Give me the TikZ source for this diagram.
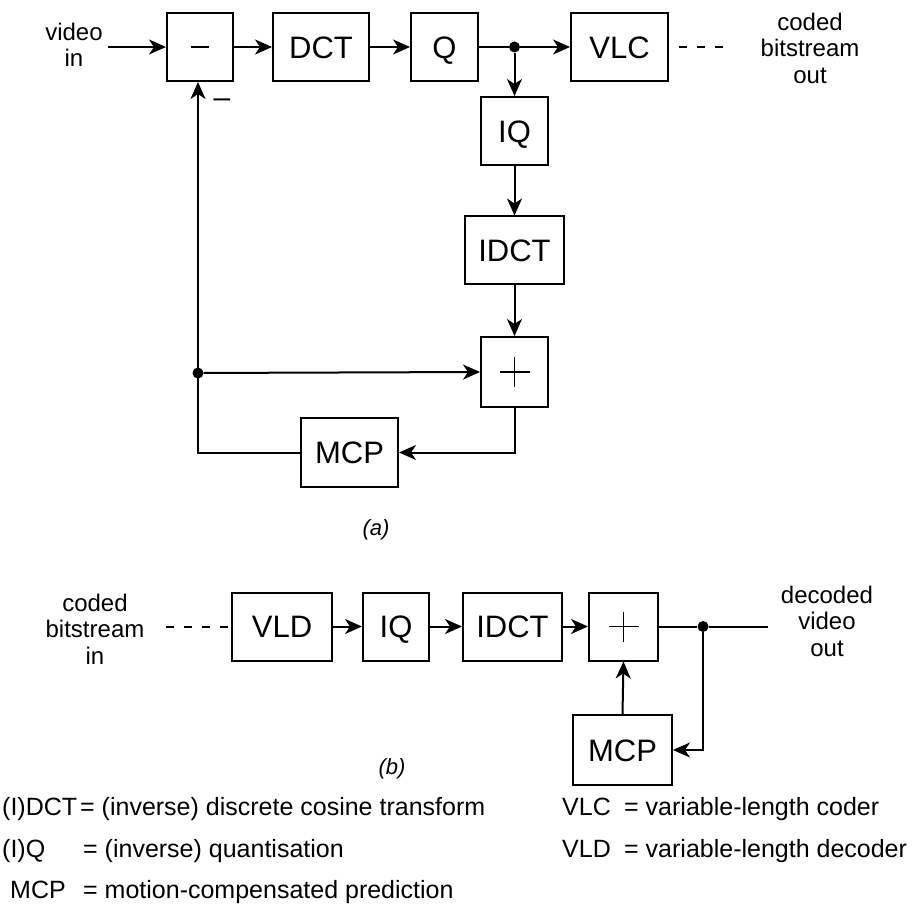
\documentclass[tikz,border=0pt]{standalone}
\usepackage{fontspec}
\setmainfont{Liberation Sans}
\usetikzlibrary{arrows.meta}
\begin{document}
\begin{tikzpicture}[x=1pt,y=-1pt,
  conn/.style={line width=2pt},
  blk/.style={draw, line width=2pt, minimum height=68pt, inner sep=0pt,
    text height=22.2pt, text depth=0pt, font=\fontsize{31}{31}\selectfont},
  lbl/.style={align=center, inner sep=0pt, font=\fontsize{24}{26.5}\selectfont},
  leg/.style={anchor=base west, inner sep=0pt, font=\fontsize{25}{25}\selectfont},
  captxt/.style={inner sep=0pt, font=\fontsize{22}{22}\selectfont\itshape},
  arr/.style={conn, -{Stealth[length=17pt,width=15pt,inset=5pt]}},
  jdot/.style={circle, fill, inner sep=0pt, minimum size=11pt},
  plussign/.style={path picture={\draw[line width=1.9pt]
      ([xshift=-15pt]path picture bounding box.center) -- ([xshift=15pt]path picture bounding box.center)
      ([yshift=-15pt]path picture bounding box.center) -- ([yshift=15pt]path picture bounding box.center);}},
  minussign/.style={path picture={\draw[line width=1.9pt]
      ([xshift=-9pt]path picture bounding box.center) -- ([xshift=9pt]path picture bounding box.center);}}
]
\useasboundingbox (0,0) rectangle (921,917);

% ---------- (a) encoder ----------
\node[blk, minimum width=66pt, minussign] (sub) at (200,47) {};
\node[blk, minimum width=96pt] (dct) at (321,47) {DCT};
\node[blk, minimum width=67pt] (q) at (444.5,47) {Q};
\node[jdot] (j1) at (514.5,47) {};
\node[blk, minimum width=97pt] (vlc) at (619.5,47) {VLC};
\node[blk, minimum width=67pt] (iq) at (514.5,131) {IQ};
\node[blk, minimum width=99pt] (idct) at (514.5,250.5) {IDCT};
\node[blk, minimum width=67pt, minimum height=70pt, plussign] (add) at (514.5,372) {};
\node[blk, minimum width=97pt, minimum height=69pt] (mcp) at (349.5,452.5) {MCP};
\node[jdot] (j2) at (198,373) {};

\node[lbl] (vin) at (74,45) {video\\in};
\node[lbl] (cbout) at (810,48) {coded\\bitstream\\out};
\node[anchor=base, inner sep=0pt, font=\fontsize{30}{30}\selectfont] (neg) at (222,108) {–};

\coordinate (vinend) at (108,47);
\coordinate (dashend) at (730,47);

\draw[arr] (vinend) -- (sub.west);
\draw[arr] (sub.east) -- (dct.west);
\draw[arr] (dct.east) -- (q.west);
\draw[conn] (q.east) -- (j1);
\draw[arr] (j1) -- (vlc.west);
\draw[conn, dash pattern=on 8pt off 10pt, dash phase=-10pt] (vlc.east) -- (dashend);
\draw[arr] (j1) -- (iq.north);
\draw[arr] (iq.south) -- (idct.north);
\draw[arr] (idct.south) -- (add.north);
\draw[arr] (add.south) |- (mcp.east);
\draw[arr] (mcp.west) -| ([xshift=-2pt]sub.south);
\draw[arr] (j2) -- (add.west);

\node[captxt] (capa) at (376,530) {(a)};

% ---------- (b) decoder ----------
\node[blk, minimum width=100pt] (vld) at (282,626.5) {VLD};
\node[blk, minimum width=66pt] (iq2) at (396,626.5) {IQ};
\node[blk, minimum width=99pt] (idct2) at (512.5,626.5) {IDCT};
\node[blk, minimum width=69pt, plussign] (add2) at (623.5,626.5) {};
\node[jdot] (j3) at (703,626.5) {};
\node[blk, minimum width=99pt, minimum height=70pt] (mcp2) at (622.5,750) {MCP};

\node[lbl] (cbin) at (95,629) {coded\\bitstream\\in};
\node[lbl] (vout) at (827,621) {decoded\\video\\out};

\coordinate (cbinend) at (166,626.5);
\coordinate (voutend) at (768,626.5);

\draw[conn, dash pattern=on 8pt off 10pt] (cbinend) -- (vld.west);
\draw[arr] (vld.east) -- (iq2.west);
\draw[arr] (iq2.east) -- (idct2.west);
\draw[arr] (idct2.east) -- (add2.west);
\draw[conn] (add2.east) -- (j3) -- (voutend);
\draw[arr] (j3) |- (mcp2.east);
\draw[arr] (mcp2.north) -- (add2.south);

\node[captxt] (capb) at (392,769) {(b)};

% ---------- legend ----------
\node[leg] (l1a) at (2,815) {(I)DCT};
\node[leg] (l1b) at (80,815) {= (inverse) discrete cosine transform};
\node[leg] (l2a) at (2,857) {(I)Q};
\node[leg] (l2b) at (83,857) {= (inverse) quantisation};
\node[leg] (l3a) at (10,898) {MCP};
\node[leg] (l3b) at (83,898) {= motion-compensated prediction};
\node[leg] (l4a) at (562,815) {VLC};
\node[leg] (l4b) at (624,815) {= variable-length coder};
\node[leg] (l5a) at (562,857) {VLD};
\node[leg] (l5b) at (624,857) {= variable-length decoder};
\end{tikzpicture}
\end{document}
